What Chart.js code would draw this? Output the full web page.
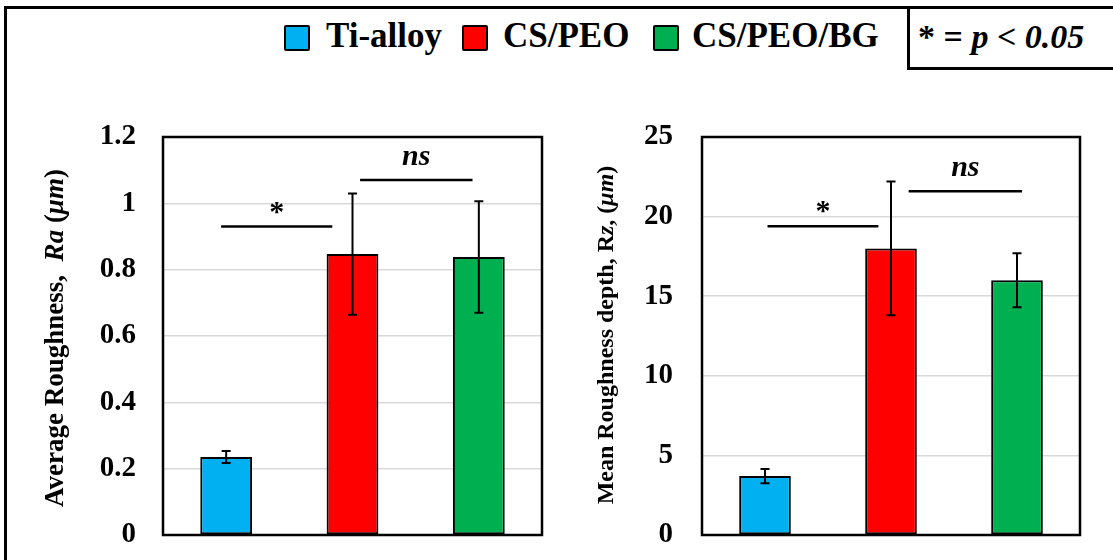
<!DOCTYPE html>
<html>
<head>
<meta charset="utf-8">
<script src="https://cdn.jsdelivr.net/npm/chart.js@4"></script>
<style>
  body { margin: 0; background: #fff; width: 1113px; height: 560px; overflow: hidden; position: relative; font-family: "Liberation Serif", serif; }
  #frame { position: absolute; left: 4px; top: 6px; width: 1200px; height: 600px; border-left: 3px solid #000; border-top: 3px solid #000; }
  #pbox { position: absolute; left: 907px; top: 6px; width: 300px; height: 58px; border: 3px solid #000; }
  #ptext { position: absolute; left: 918px; top: 19px; font: bold 34px "Liberation Serif"; line-height: 36px; white-space: nowrap; }
  .lg { position: absolute; top: 18px; font: bold 35px "Liberation Serif"; line-height: 36px; white-space: nowrap; }
  .sw { position: absolute; top: 25px; width: 22px; height: 22px; border: 2.5px solid #000; border-radius: 2px; }
  canvas { position: absolute; top: 100px; }
</style>
</head>
<body>
<div id="frame"></div>
<div id="legend"></div>
<div id="pbox"></div>
<div id="ptext">* = <i>p &lt; 0.05</i></div>
<canvas id="raChart" width="556" height="460" style="left:0px"></canvas>
<canvas id="rzChart" width="557" height="460" style="left:556px"></canvas>
<script>
// data
const groups = ["Ti-alloy", "CS/PEO", "CS/PEO/BG"];
const colors = ["#00B0F0", "#FF0000", "#00B050"];
const raMean = [0.235, 0.847, 0.838];
const raErr = [0.018, 0.183, 0.168];
const rzMean = [3.7, 18.0, 16.0];
const rzErr = [0.45, 4.2, 1.7];
const raTicks = [0, 0.2, 0.4, 0.6, 0.8, 1, 1.2];
const rzTicks = [0, 5, 10, 15, 20, 25];
const sigLabels = ["*", "ns"];
const raSigLevel = [0.93, 1.07];
const rzSigLevel = [19.4, 21.6];

// legend (html)
const lgX = [[284, 326], [462, 503], [653, 692]];
const legend = document.getElementById("legend");
groups.forEach((g, i) => {
  const sw = document.createElement("div");
  sw.className = "sw";
  sw.style.left = lgX[i][0] + "px";
  sw.style.background = colors[i];
  legend.appendChild(sw);
  const t = document.createElement("div");
  t.className = "lg";
  t.style.left = lgX[i][1] + "px";
  t.textContent = g;
  legend.appendChild(t);
});

function drawRuns(ctx, runs, cx, cy, size) {
  ctx.save();
  ctx.translate(cx, cy);
  ctx.rotate(-Math.PI / 2);
  const fonts = runs.map(r => (r.it ? "italic " : "") + "bold " + size + 'px "Liberation Serif"');
  let total = 0;
  const ws = runs.map((r, i) => { ctx.font = fonts[i]; const w = ctx.measureText(r.t).width; total += w; return w; });
  let x = -total / 2;
  ctx.textBaseline = "middle";
  ctx.textAlign = "left";
  ctx.fillStyle = "#000";
  runs.forEach((r, i) => { ctx.font = fonts[i]; ctx.fillText(r.t, x, 0); x += ws[i]; });
  ctx.restore();
}

const extras = {
  id: "extras",
  afterDatasetsDraw(chart, args, opts) {
    const ctx = chart.ctx, xs = chart.scales.x, ys = chart.scales.y;
    ctx.save();
    ctx.strokeStyle = "#000";
    ctx.lineWidth = 2;
    // error bars
    opts.errors.forEach((e, i) => {
      const cx = xs.getPixelForValue(i);
      const top = ys.getPixelForValue(opts.means[i] + e);
      const bot = ys.getPixelForValue(opts.means[i] - e);
      ctx.beginPath();
      ctx.moveTo(cx, top); ctx.lineTo(cx, bot);
      ctx.moveTo(cx - 4.5, top); ctx.lineTo(cx + 4.5, top);
      ctx.moveTo(cx - 4.5, bot); ctx.lineTo(cx + 4.5, bot);
      ctx.stroke();
    });
    // plot frame
    const a = chart.chartArea;
    ctx.lineWidth = 2.5;
    ctx.strokeRect(a.left, a.top, a.right - a.left, a.bottom - a.top);
    // significance marks
    ctx.fillStyle = "#000";
    ctx.textAlign = "center";
    ctx.textBaseline = "alphabetic";
    opts.sig.forEach(s => {
      const py = ys.getPixelForValue(s.level);
      const x1 = xs.getPixelForValue(s.from), x2 = xs.getPixelForValue(s.to);
      ctx.lineWidth = 2.5;
      ctx.beginPath();
      ctx.moveTo(x1, py); ctx.lineTo(x2, py);
      ctx.stroke();
      if (s.text === "*") {
        ctx.font = 'bold 30px "Liberation Serif"';
        ctx.fillText(s.text, (x1 + x2) / 2, py - 6);
      } else {
        ctx.font = 'italic bold 30px "Liberation Serif"';
        ctx.fillText(s.text, (x1 + x2) / 2, py - 15);
      }
    });
    // y title
    drawRuns(ctx, opts.title, opts.titleX, opts.titleY, opts.titleSize);
    ctx.restore();
  }
};

function makeChart(id, means, errs, ticks, axisW, padR, sig, title, titleX, titleY, titleSize, tickPad) {
  return new Chart(document.getElementById(id), {
    type: "bar",
    data: {
      labels: groups,
      datasets: [{
        data: means,
        backgroundColor: colors,
        borderColor: "#000",
        borderWidth: 2,
        borderSkipped: false,
        categoryPercentage: 1,
        barPercentage: 0.41
      }]
    },
    options: {
      responsive: false,
      animation: false,
      layout: { padding: { left: 0, right: padR, top: 37, bottom: 25 } },
      plugins: {
        legend: { display: false },
        tooltip: { enabled: false },
        extras: { means: means, errors: errs, sig: sig, title: title, titleX: titleX, titleY: titleY, titleSize: titleSize }
      },
      scales: {
        x: { display: false },
        y: {
          min: ticks[0],
          max: ticks[ticks.length - 1],
          afterBuildTicks: s => { s.ticks = ticks.map(v => ({ value: v })); },
          // fixed axis width; tick padding must not push the plot area in
          afterFit: s => { s.width = axisW; s.paddingTop = 0; s.paddingBottom = 0; },
          border: { display: false },
          grid: { color: "#d9d9d9", lineWidth: 1.5, drawTicks: false },
          ticks: {
            padding: tickPad,
            color: "#000",
            font: { family: "Liberation Serif", weight: "bold", size: 29 },
            callback: v => String(v)
          }
        }
      }
    },
    plugins: [extras]
  });
}

makeChart("raChart", raMean, raErr, raTicks, 163, 14,
  [
    { from: -0.04, to: 0.84, level: raSigLevel[0], text: sigLabels[0] },
    { from: 1.06, to: 1.95, level: raSigLevel[1], text: sigLabels[1] }
  ],
  [{ t: "Average Roughness,  " }, { t: "Ra", it: true }, { t: " (" }, { t: "μm", it: true }, { t: ")" }],
  56, 238, 27, 27);

makeChart("rzChart", rzMean, rzErr, rzTicks, 146, 33,
  [
    { from: 0.02, to: 0.9, level: rzSigLevel[0], text: sigLabels[0] },
    { from: 1.14, to: 2.04, level: rzSigLevel[1], text: sigLabels[1] }
  ],
  [{ t: "Mean Roughness depth, R" }, { t: "z", it: true }, { t: ", (" }, { t: "μm", it: true }, { t: ")" }],
  51, 235, 24, 29);
</script>
</body>
</html>
